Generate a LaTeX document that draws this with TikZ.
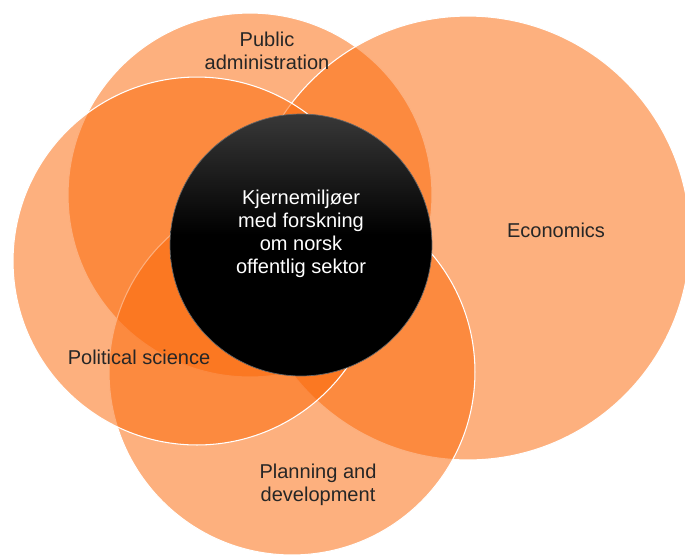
\documentclass[tikz,border=0pt]{standalone}
\usepackage{fontspec}
\setmainfont{Liberation Sans}
\definecolor{vennorange}{RGB}{251,103,7}
\pgfdeclareverticalshading{coreshade}{100bp}{color(0bp)=(black); color(52bp)=(black);
  color(75bp)=(black!78); color(100bp)=(black!78)}
\tikzset{
  venn/.style={circle,fill=vennorange,fill opacity=0.52,draw=white,line width=0.6pt,
    inner sep=0pt,outer sep=0pt,minimum size=#1},
  lbl/.style={align=center,font=\fontsize{11.4}{13}\selectfont,text=black!85},
  core/.style={circle,inner sep=0pt,minimum size=5.24cm,shading=coreshade,
    draw=black!60,line width=0.4pt}
}
\begin{document}
\begin{tikzpicture}[x=0.02cm,y=-0.02cm]
  \useasboundingbox (0,0) rectangle (685,559);
  \node[venn=7.28cm] (pa) at (250,195) {};
  \node[venn=8.88cm] (eco) at (468,238) {};
  \node[venn=7.32cm] (plan) at (292,372) {};
  \node[venn=7.36cm] (pol) at (197,261) {};
  \node[core] (kjerne) at (301,245) {};
  \node[lbl] (palbl) at (267,51) {Public\\administration};
  \node[lbl] (ecolbl) at (556,230) {Economics};
  \node[lbl] (pollbl) at (139,357) {Political science};
  \node[lbl] (planlbl) at (318,485) {Planning and\\development};
  \node[lbl,text=white] (kjernelbl) at (301,234)
    {Kjernemiljøer\\med forskning\\om norsk\\offentlig sektor};
\end{tikzpicture}
\end{document}
